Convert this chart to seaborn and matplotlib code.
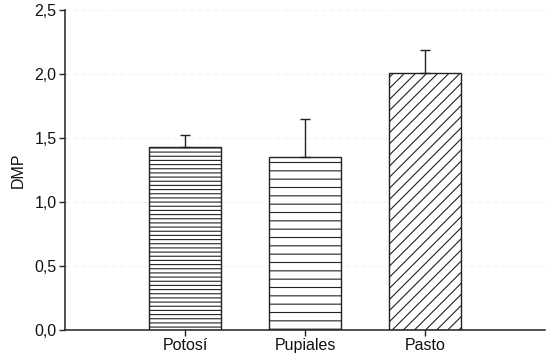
import matplotlib
matplotlib.use("Agg")
import matplotlib.pyplot as plt
import seaborn as sns
import pandas as pd
from matplotlib.ticker import FuncFormatter

categories = ["Potosí", "Pupiales", "Pasto"]
dmp_values = [1.43, 1.35, 2.01]
dmp_errors = [0.09, 0.30, 0.18]
hatches = ["----", "--", "///"]

sns.set_theme(style="white")
plt.rcParams["font.family"] = ["Liberation Sans", "DejaVu Sans"]
plt.rcParams["hatch.linewidth"] = 0.8
plt.rcParams["hatch.color"] = "#333333"

df = pd.DataFrame({"site": categories, "DMP": dmp_values})

fig = plt.figure(figsize=(5.5, 3.61), dpi=100)
ax = fig.add_axes([0.118, 0.086, 0.873, 0.886])

sns.barplot(data=df, x="site", y="DMP", order=categories, color="white",
            edgecolor="#222222", linewidth=1.0, width=0.6, errorbar=None, ax=ax)

for patch, h in zip(ax.patches, hatches):
    patch.set_hatch(h)
    patch.set_facecolor("white")

xs = [p.get_x() + p.get_width() / 2 for p in ax.patches]
ax.errorbar(xs, dmp_values, yerr=[[0] * len(dmp_errors), dmp_errors],
            fmt="none", ecolor="#222222", elinewidth=1.0, capsize=3.5,
            capthick=1.0, zorder=1)

ax.set_xlim(-1, 3)
ax.set_ylim(0, 2.5)
ax.set_yticks([0, 0.5, 1.0, 1.5, 2.0, 2.5])
ax.yaxis.set_major_formatter(FuncFormatter(lambda v, p: f"{v:.1f}".replace(".", ",")))
for yv in [0.5, 1.0, 1.5, 2.0, 2.5]:
    ax.axhline(yv, color="#f2f2f2", lw=0.8, ls=(0, (4, 3)), zorder=0)

ax.set_xlabel("")
ax.set_ylabel("DMP", fontsize=11.5, color="#111111", labelpad=6)
ax.tick_params(axis="both", which="major", direction="out", length=4, width=1,
               color="#222222", labelsize=11.5, labelcolor="#111111", pad=2,
               bottom=True, left=True)
sns.despine(ax=ax, top=True, right=True)
for s in ["left", "bottom"]:
    ax.spines[s].set_color("#222222")
    ax.spines[s].set_linewidth(1.1)

fig.savefig("out.png", dpi=100)
